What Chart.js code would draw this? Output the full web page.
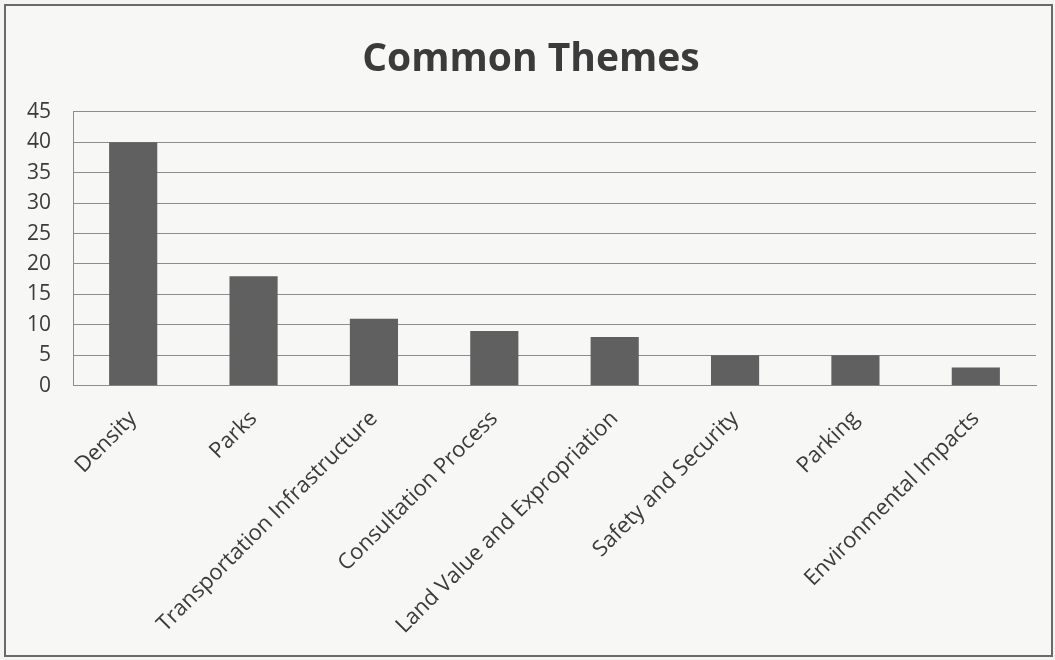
<!DOCTYPE html>
<html>
<head>
<meta charset="utf-8">
<script src="https://cdn.jsdelivr.net/npm/chart.js@4"></script>
<style>
  html, body { margin: 0; padding: 0; background: #f4f4f2; }
  #frame {
    position: absolute; left: 4px; top: 4px;
    width: 1049px; height: 653px;
    box-sizing: border-box;
    border: 2px solid #6a6a6a;
    background: #f7f7f5;
  }
  #frame canvas { display: block; }
</style>
</head>
<body>
<div id="frame"><canvas id="myChart"></canvas></div>
<script>
// chart data
var themes = [
  'Density',
  'Parks',
  'Transportation Infrastructure',
  'Consultation Process',
  'Land Value and Expropriation',
  'Safety and Security',
  'Parking',
  'Environmental Impacts'
];
var counts = [40, 18, 11, 9, 8, 5, 5, 3];
var yTicks = [0, 5, 10, 15, 20, 25, 30, 35, 40, 45];

var textColor = '#3b3b3b';
var lineColor = '#8c8c8c';

const ctx = document.getElementById('myChart');

var chartThemes = new Chart(ctx, {
  type: 'bar',
  data: {
    labels: themes,
    datasets: [{
      label: 'Common Themes',
      data: counts,
      backgroundColor: '#606060',
      borderWidth: 0,
      barPercentage: 0.4,
      categoryPercentage: 1.0
    }]
  },
  options: {
    responsive: true,
    maintainAspectRatio: false,
    animation: false,
    layout: {
      padding: { top: 24, left: 20, right: 15, bottom: 4 }
    },
    plugins: {
      legend: { display: false },
      tooltip: { enabled: false },
      title: {
        display: true,
        text: 'Common Themes',
        color: textColor,
        font: { family: 'Open Sans', size: 39, weight: 'bold' },
        padding: { top: 6, bottom: 29 }
      }
    },
    scales: {
      x: {
        grid: { display: false },
        border: { display: true, color: lineColor, width: 1 },
        afterFit: function(scale) {
          // rotated labels fit inside the frame, no extra side room
          scale.paddingLeft = 0;
          scale.paddingRight = 0;
        },
        ticks: {
          color: textColor,
          font: { family: 'Open Sans', size: 22 },
          minRotation: 45,
          maxRotation: 45,
          padding: 12
        }
      },
      y: {
        min: 0,
        max: 45,
        afterBuildTicks: function(scale) {
          scale.ticks = yTicks.map(function(v) { return { value: v }; });
        },
        afterFit: function(scale) {
          // drop the unused room left of the labels
          scale.width = 47;
        },
        grid: { color: lineColor, lineWidth: 1, drawTicks: false },
        border: { display: true, color: lineColor, width: 1 },
        ticks: {
          color: textColor,
          font: { family: 'Open Sans', size: 21 },
          padding: 22,
          autoSkip: false
        }
      }
    }
  }
});
</script>
</body>
</html>
